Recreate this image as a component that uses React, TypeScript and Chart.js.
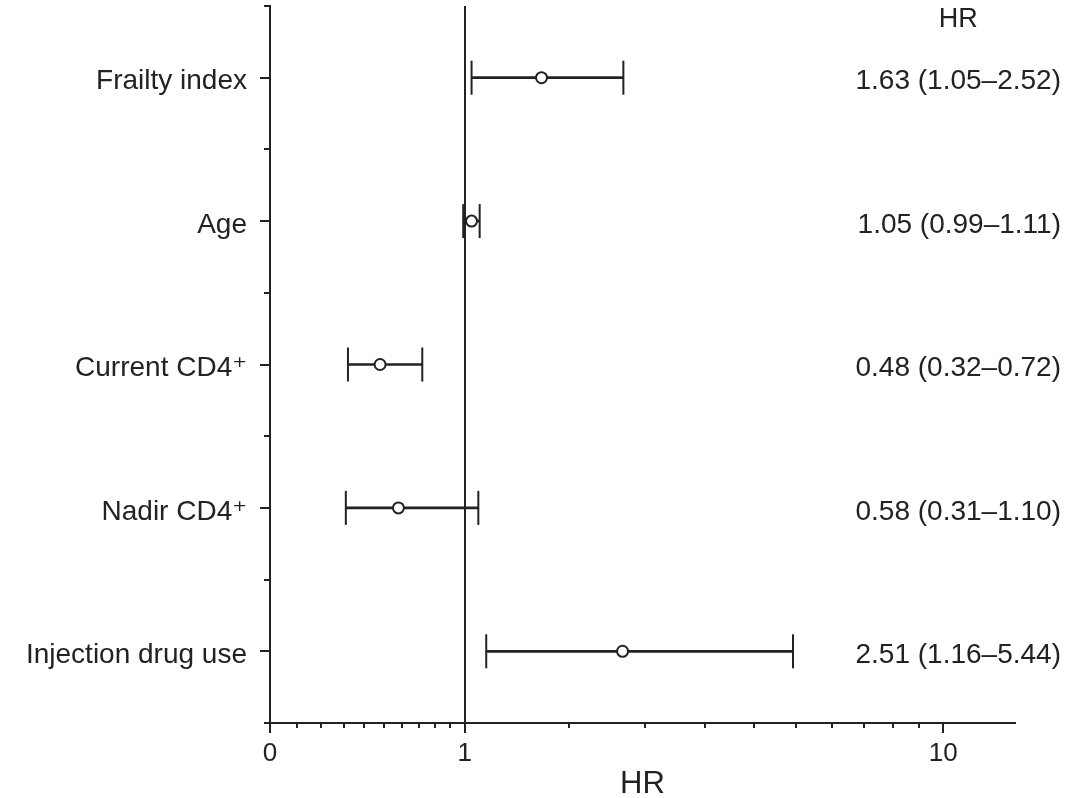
import React, { useEffect, useRef } from 'react';
import { Chart, LinearScale, registerables } from 'chart.js';

Chart.register(...registerables);

// ---------- data ----------
const categories = ['Frailty index', 'Age', 'Current CD4\u207A', 'Nadir CD4\u207A', 'Injection drug use'];
const hrValues = [1.63, 1.05, 0.48, 0.58, 2.51];
const ciLower = [1.05, 0.99, 0.32, 0.31, 1.16];
const ciUpper = [2.52, 1.11, 0.72, 1.1, 5.44];
const majorTicks = [0, 1, 10];
const minorTicks = [0.1, 0.2, 0.3, 0.4, 0.5, 0.6, 0.7, 0.8, 0.9, 1.9, 2.8, 3.7, 4.6, 5.5, 6.4, 7.3, 8.2, 9.1];
const xMin = 0;
const xMax = 13.2;
const axisTitle = 'HR';
const columnHeader = 'HR';

// ---------- style ----------
const INK = '#222222';
const FAMILY = "'Liberation Sans', Arial, Helvetica, 'DejaVu Sans', sans-serif";
const LABEL_SIZE = 28;
const LABEL_SHIFT = 4;

const lg = (v: number) => Math.log10(v + 1);

class Log1pScale extends LinearScale {
  static id = 'log1p';
  static defaults = {};
  determineDataLimits() {
    const opts: any = this.options;
    this.min = opts.min ?? 0;
    this.max = opts.max ?? 10;
  }
  buildTicks() {
    const all = [...majorTicks, ...minorTicks].sort((a, b) => a - b);
    return all.map((v) => ({ value: v }));
  }
  configure() {
    super.configure();
    const self: any = this;
    self._startValue = lg(this.min);
    self._endValue = lg(this.max);
    self._valueRange = lg(this.max) - lg(this.min);
  }
  getPixelForValue(value: any) {
    if (value === null || value === undefined || isNaN(value)) return NaN;
    const self: any = this;
    return this.getPixelForDecimal((lg(value) - self._startValue) / self._valueRange);
  }
  getValueForPixel(pixel: number) {
    const self: any = this;
    const d = this.getDecimalForPixel(pixel);
    return Math.pow(10, self._startValue + d * self._valueRange) - 1;
  }
}
Chart.register(Log1pScale as any);

const hrText = hrValues.map(
  (v, i) => `${v.toFixed(2)} (${ciLower[i].toFixed(2)}\u2013${ciUpper[i].toFixed(2)})`
);

const overlay = {
  id: 'forestOverlay',
  afterDraw(chart: any) {
    const { ctx, chartArea, scales } = chart;
    const x = scales.x;
    const y = scales.y;
    ctx.save();
    ctx.strokeStyle = INK;
    ctx.lineWidth = 2;
    ctx.lineCap = 'butt';
    // longer major ticks on the x axis
    ctx.beginPath();
    majorTicks.forEach((v) => {
      const px = Math.round(x.getPixelForValue(v));
      ctx.moveTo(px, chartArea.bottom);
      ctx.lineTo(px, chartArea.bottom + 10);
    });
    // small ticks at category boundaries on the y axis
    for (let i = 0; i <= categories.length; i++) {
      const py = Math.round(y.getPixelForValue(i - 0.5));
      ctx.moveTo(chartArea.left - 6, py);
      ctx.lineTo(chartArea.left, py);
    }
    ctx.stroke();

    // right-hand HR column
    ctx.fillStyle = INK;
    ctx.font = `${LABEL_SIZE}px ${FAMILY}`;
    ctx.textAlign = 'right';
    ctx.textBaseline = 'middle';
    const rightX = chart.width - 28;
    hrText.forEach((t, i) => {
      ctx.fillText(t, rightX, y.getPixelForValue(i) + LABEL_SHIFT);
    });
    const colW = ctx.measureText(hrText[0]).width;
    ctx.font = `27px ${FAMILY}`;
    ctx.textAlign = 'center';
    ctx.fillText(columnHeader, rightX - colW / 2, 20);
    ctx.restore();
  },
};

export default function App() {
  const ref = useRef<HTMLCanvasElement | null>(null);

  useEffect(() => {
    document.body.style.margin = '0';
    const canvas = ref.current;
    if (!canvas) return;
    Chart.defaults.font.family = FAMILY;
    Chart.defaults.color = INK;

    const chart = new Chart(canvas, {
      type: 'bar',
      data: {
        labels: categories,
        datasets: [
          {
            type: 'scatter',
            data: hrValues.map((v, i) => ({ x: v, y: categories[i] })),
            pointStyle: 'circle',
            pointRadius: 5.5,
            pointHoverRadius: 5.5,
            pointBorderWidth: 2,
            pointBorderColor: INK,
            pointBackgroundColor: '#ffffff',
            xAxisID: 'x',
            yAxisID: 'y',
          } as any,
          {
            type: 'scatter',
            data: ciLower.map((v, i) => ({ x: v, y: categories[i] })),
            pointStyle: 'line',
            pointRotation: 90,
            pointRadius: 17,
            pointHoverRadius: 17,
            pointBorderWidth: 2,
            pointBorderColor: INK,
            xAxisID: 'x',
            yAxisID: 'y',
          } as any,
          {
            type: 'scatter',
            data: ciUpper.map((v, i) => ({ x: v, y: categories[i] })),
            pointStyle: 'line',
            pointRotation: 90,
            pointRadius: 17,
            pointHoverRadius: 17,
            pointBorderWidth: 2,
            pointBorderColor: INK,
            xAxisID: 'x',
            yAxisID: 'y',
          } as any,
          {
            type: 'bar',
            data: ciLower.map((lo, i) => [lo, ciUpper[i]]),
            backgroundColor: INK,
            borderWidth: 0,
            barThickness: 2,
            xAxisID: 'x',
            yAxisID: 'y',
          } as any,
        ],
      },
      options: {
        indexAxis: 'y',
        responsive: false,
        animation: false,
        events: [],
        layout: { autoPadding: false, padding: { top: 6, right: 74, left: 0, bottom: 0 } },
        plugins: {
          legend: { display: false },
          tooltip: { enabled: false },
        },
        scales: {
          x: {
            type: 'log1p' as any,
            position: 'bottom',
            min: xMin,
            max: xMax,
            offset: false,
            grid: {
              offset: false,
              drawOnChartArea: true,
              drawTicks: true,
              tickLength: 5,
              lineWidth: 2,
              tickWidth: 2,
              tickColor: INK,
              color: (c: any) => (c.tick && c.tick.value === 1 ? INK : 'rgba(0,0,0,0)'),
            },
            border: { display: true, color: INK, width: 2 },
            ticks: {
              autoSkip: false,
              maxRotation: 0,
              minRotation: 0,
              padding: 10,
              color: INK,
              font: { size: 26, family: FAMILY },
              callback: (v: any) => (majorTicks.includes(Number(v)) ? String(v) : ''),
            },
            title: {
              display: true,
              text: axisTitle,
              color: INK,
              font: { size: 31, family: FAMILY, lineHeight: 0.9 },
              padding: { top: 0, bottom: 0 },
            },
            afterFit: (s: any) => {
              s.height = 75;
              s.paddingLeft = 0;
              s.paddingRight = 0;
            },
          } as any,
          y: {
            type: 'category',
            position: 'left',
            labels: categories,
            offset: true,
            grid: {
              offset: false,
              drawOnChartArea: false,
              drawTicks: true,
              tickLength: 10,
              lineWidth: 2,
              tickWidth: 2,
              tickColor: INK,
              color: INK,
            },
            border: { display: true, color: INK, width: 2 },
            ticks: {
              autoSkip: false,
              padding: 13,
              labelOffset: LABEL_SHIFT,
              color: INK,
              font: { size: LABEL_SIZE, family: FAMILY },
            },
            afterFit: (s: any) => {
              s.width = 270;
              s.paddingTop = 0;
              s.paddingBottom = 0;
            },
          } as any,
        },
      },
      plugins: [overlay],
    });
    return () => chart.destroy();
  }, []);

  return (
    <div style={{ position: 'fixed', left: 0, top: 0, width: 1089, height: 798, background: '#fff' }}>
      <canvas ref={ref} width={1089} height={798} style={{ display: 'block' }} />
    </div>
  );
}
